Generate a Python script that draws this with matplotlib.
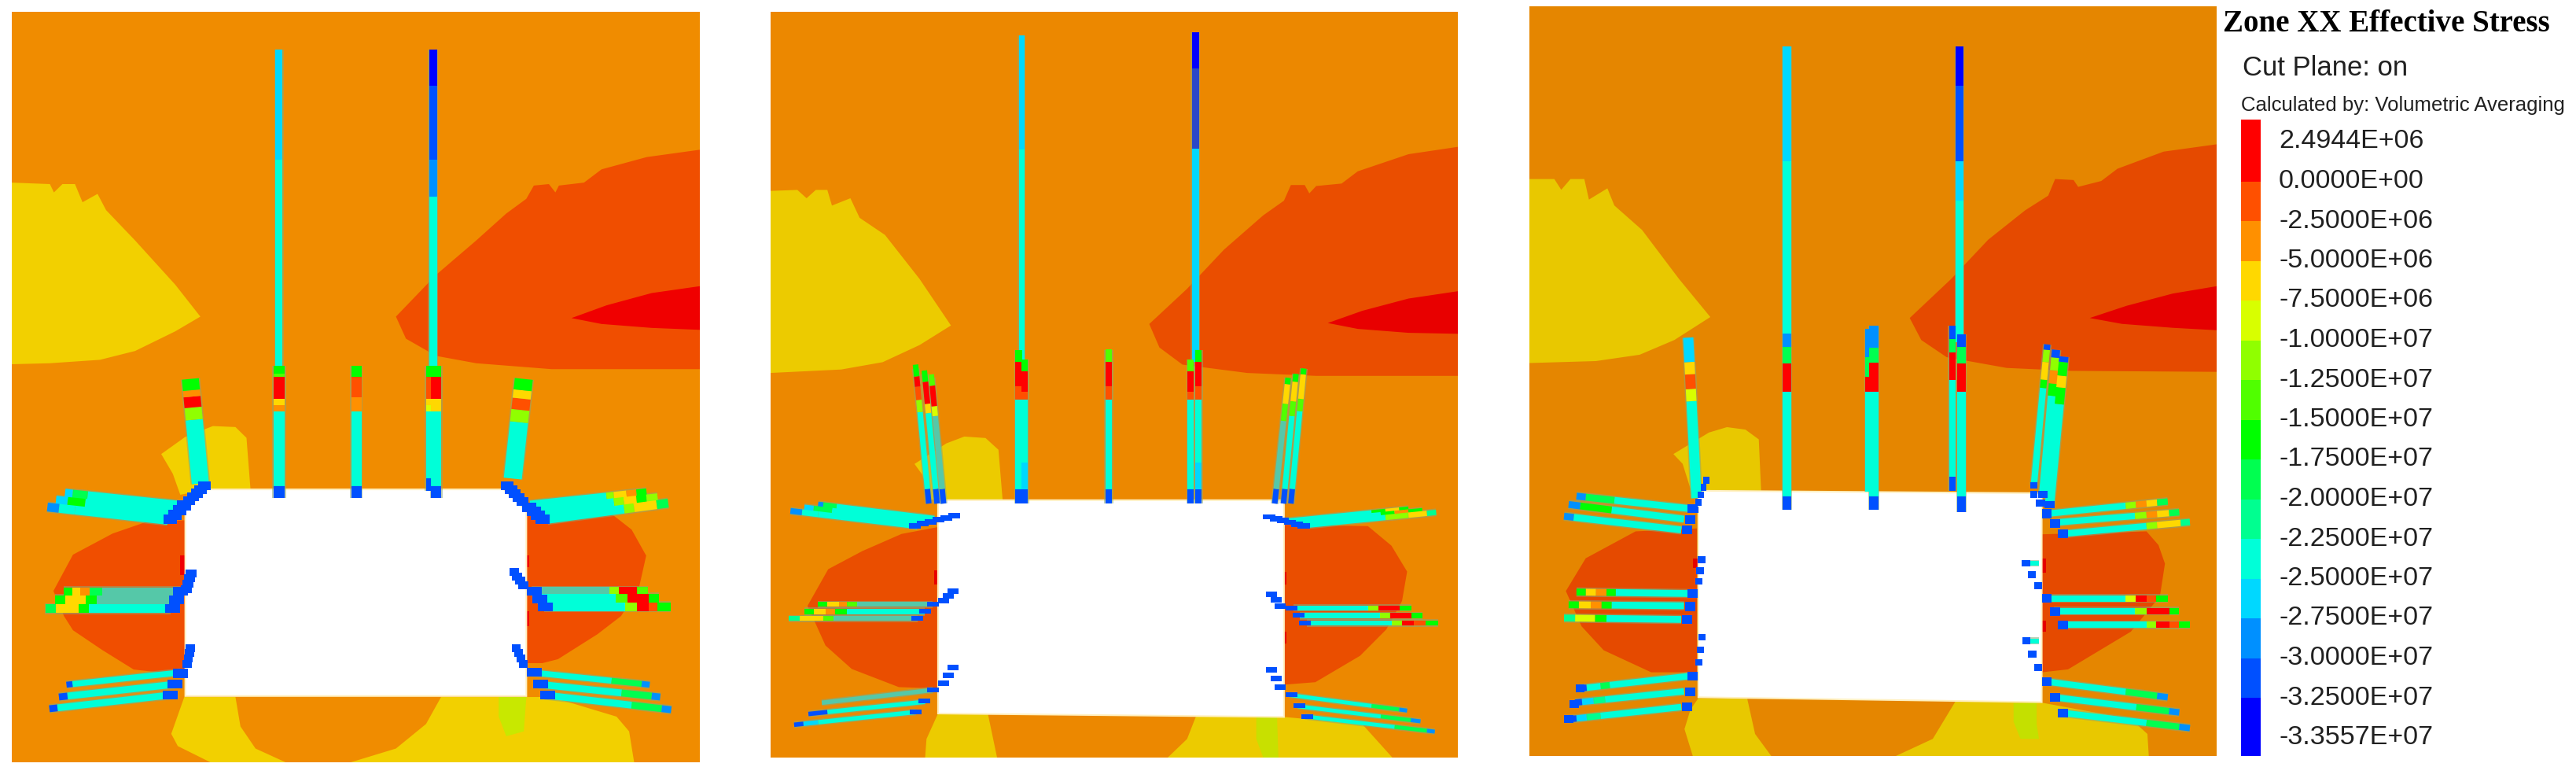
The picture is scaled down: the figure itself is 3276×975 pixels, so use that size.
import numpy as np
import matplotlib
matplotlib.use('Agg')
import matplotlib.pyplot as plt
from matplotlib.patches import Polygon, Rectangle

W, H = 3276, 975

# legend
title = 'Zone XX Effective Stress'
sub1 = 'Cut Plane: on'
sub2 = 'Calculated by: Volumetric Averaging'
legend_labels = ['2.4944E+06', '0.0000E+00', '-2.5000E+06', '-5.0000E+06', '-7.5000E+06',
                 '-1.0000E+07', '-1.2500E+07', '-1.5000E+07', '-1.7500E+07', '-2.0000E+07',
                 '-2.2500E+07', '-2.5000E+07', '-2.7500E+07', '-3.0000E+07', '-3.2500E+07',
                 '-3.3557E+07']
# colour of each stress band, top to bottom, then two washed out tones seen on bolts
levels = ['#ff0000', '#ff5000', '#ff9000', '#ffd800', '#d8ff00', '#90ff00', '#50ff00', '#00ff00',
          '#00ff50', '#00ff90', '#00ffd8', '#00d8ff', '#0090ff', '#0050ff', '#0000ff',
          '#55c8a8', '#2a48c8']
DIM, SLATE = 15, 16

# panel 1: outlines in image zoom units
p1_yellow = [(24,372),(100,375),(108,392),(125,375),(150,375),(165,412),(195,395),(212,428),(270,490),(350,580),(400,645),(350,675),(270,715),(200,733),(100,740),(24,742)]
p1_zone = [(1396,305),(1290,320),(1200,345),(1165,372),(1115,378),(1108,392),(1095,375),(1065,378),(1050,405),(1010,435),(950,490),(870,560),(790,645),(810,690),(870,725),(950,740),(1100,752),(1396,752)]
p1_red = [(1396,583),(1300,597),(1210,622),(1140,648),(1200,660),(1300,668),(1396,672)]
p1_yellow_up = [(322,925),(370,890),(425,868),(470,870),(492,892),(500,997),(415,997),(360,1008),(345,965)]
p1_left = [(370,1060),(293,1063),(225,1087),(146,1130),(107,1204),(128,1255),(146,1284),(204,1324),(267,1364),(319,1370),(370,1373)]
p1_right = [(1051,1036),(1220,1047),(1260,1079),(1289,1132),(1275,1196),(1239,1255),(1192,1292),(1113,1343),(1082,1351),(1051,1351)]
p1_floor = [(368,1420),(1100,1420),(1230,1460),(1255,1490),(1265,1553),(420,1553),(355,1520),(342,1495)]
p1_floor_hole = [(470,1420),(880,1420),(850,1475),(790,1525),(700,1553),(570,1553),(510,1525),(480,1480)]
p1_lime = [(995,1420),(1050,1420),(1045,1490),(1010,1500),(995,1460)]
p1_opening = [(370,1040),(415,997),(1005,997),(1050,1040),(1050,1418),(370,1418)]
p1_slivers = [[(360,1132),(370,1132),(370,1172),(360,1172)], [(1050,1132),(1056,1132),(1056,1155),(1050,1155)], [(1050,1245),(1056,1245),(1056,1275),(1050,1275)]]

# bolts: head x, head y, tip x, tip y, width, [(end along main axis, level), ...]
p1_bolts = [
    (557,750,557,101,14,[(325,10),(101,11)]),
    (557,1015,557,745,22,[(990,13),(838,10),(825,2),(812,3),(768,0),(762,6),(745,7)]),
    (711,1015,711,745,20,[(990,13),(838,10),(810,2),(768,1),(745,7)]),
    (864,750,864,101,16,[(400,10),(325,12),(175,13),(101,14)]),
    (858,1000,858,745,16,[(975,13),(838,10),(825,4),(812,3),(768,1),(745,7)]),
    (870,1015,870,745,20,[(990,13),(838,10),(812,3),(768,0),(745,7)]),
    (400,985,380,772,34,[(855,10),(830,5),(808,0),(795,2),(772,7)]),
    (1023,975,1045,772,36,[(860,10),(835,5),(812,1),(795,3),(772,7)]),
    (355,1030,130,1006,20,[(175,10),(145,8),(130,11)]),
    (345,1045,112,1020,20,[(170,10),(135,7),(112,11)]),
    (335,1060,95,1033,18,[(150,10),(118,10),(95,12)]),
    (360,1205,128,1205,16,[(205,DIM),(180,8),(160,2),(145,3),(128,7)]),
    (350,1222,110,1222,18,[(193,DIM),(172,7),(130,3),(110,7)]),
    (340,1240,90,1240,18,[(178,10),(157,7),(112,3),(91,8)]),
    (360,1370,133,1395,12,[(145,10),(133,13)]),
    (350,1394,118,1420,14,[(135,10),(118,13)]),
    (340,1416,99,1444,14,[(115,10),(99,13)]),
    (1058,1030,1290,1005,20,[(1210,10),(1225,5),(1250,3),(1270,2),(1290,7)]),
    (1075,1042,1312,1015,20,[(1225,10),(1245,5),(1270,3),(1290,7),(1312,5)]),
    (1092,1058,1333,1025,18,[(1245,10),(1265,5),(1310,3),(1333,8)]),
    (1061,1204,1293,1204,16,[(1215,DIM),(1235,5),(1270,0),(1293,6)]),
    (1071,1219,1314,1219,18,[(1228,10),(1252,6),(1294,0),(1314,7)]),
    (1085,1236,1338,1236,18,[(1247,10),(1270,5),(1294,0),(1312,1),(1338,7)]),
    (1061,1370,1296,1395,12,[(1220,10),(1280,8),(1296,12)]),
    (1074,1394,1317,1420,14,[(1240,10),(1300,8),(1317,12)]),
    (1087,1416,1339,1446,14,[(1260,10),(1320,8),(1339,12)]),
]
# blue head blocks: first x, first y, last x, last y, count, block w, block h
p1_heads = [
    (408,990,378,1020,5,24,18),(368,1030,340,1058,4,28,20),(382,1168,372,1200,4,22,16),
    (360,1205,345,1240,3,30,18),(380,1320,374,1352,4,18,16),(360,1372,340,1416,3,30,18),
    (1012,990,1042,1022,5,24,18),(1056,1034,1082,1058,4,28,20),(1026,1165,1044,1192,4,20,16),
    (1066,1204,1088,1236,3,30,18),(1030,1320,1044,1352,4,18,16),(1066,1370,1092,1416,3,30,18),
]

# panel 2
p2_yellow = [(17,390),(75,388),(95,405),(115,388),(140,388),(150,420),(190,405),(210,445),(265,480),(340,570),(408,665),(340,705),(260,740),(170,755),(17,762)]
p2_zone = [(1507,300),(1400,315),(1290,350),(1255,375),(1200,380),(1185,395),(1175,378),(1145,378),(1130,410),(1085,440),(1000,510),(920,590),(838,662),(860,710),(910,745),(1050,762),(1200,768),(1507,768)]
p2_red = [(1507,595),(1400,610),(1300,635),(1225,660),(1290,672),(1400,680),(1507,682)]
p2_yellow_up = [(329,948),(398,906),(437,892),(483,895),(511,919),(520,1021),(392,1021),(365,1021),(346,970)]
p2_left = [(380,1077),(301,1091),(216,1126),(142,1163),(97,1238),(114,1273),(136,1319),(193,1367),(295,1404),(380,1407)]
p2_right = [(1130,1072),(1312,1075),(1363,1115),(1397,1168),(1386,1228),(1352,1286),(1295,1340),(1198,1394),(1130,1399)]
p2_floor = [(380,1458),(488,1458),(508,1548),(352,1548),(355,1510)]
p2_floor2 = [(940,1462),(1130,1465),(1300,1480),(1365,1548),(878,1548),(920,1510)]
p2_lime = [(1070,1465),(1115,1465),(1118,1548),(1085,1548),(1070,1510)]
p2_opening = [(380,1022),(1130,1022),(1130,1465),(380,1458)]
p2_slivers = [[(372,1165),(380,1165),(380,1195),(372,1195)], [(1130,1168),(1135,1168),(1135,1195),(1130,1195)], [(1130,1290),(1135,1290),(1135,1315),(1130,1315)]]

p2_bolts = [
    (561,740,561,72,12,[(305,10),(72,11)]),
    (555,1028,555,716,14,[(1000,13),(817,10),(790,1),(740,0),(716,7)]),
    (568,1028,568,735,14,[(1000,13),(945,11),(817,10),(800,1),(758,0),(735,7)]),
    (750,1028,750,716,14,[(1000,13),(817,10),(790,1),(740,0),(714,6)]),
    (938,740,938,65,16,[(303,11),(140,SLATE),(65,14)]),
    (928,1028,928,735,14,[(1000,13),(817,10),(800,1),(758,0),(735,6)]),
    (945,1028,945,716,14,[(1000,13),(945,11),(817,10),(790,1),(740,0),(716,7)]),
    (360,1029,332,753,12,[(999,13),(842,10),(817,5),(790,1),(769,0),(745,7)]),
    (378,1029,351,764,12,[(999,13),(844,10),(825,3),(780,0),(757,7)]),
    (392,1029,366,772,12,[(999,13),(850,DIM),(830,4),(788,0),(765,6)]),
    (1110,1029,1139,772,12,[(999,13),(860,DIM),(825,6),(785,3),(772,7)]),
    (1129,1029,1156,764,12,[(999,13),(850,10),(820,6),(780,3),(764,7)]),
    (1145,1029,1173,753,12,[(999,13),(840,10),(815,6),(765,3),(753,7)]),
    (372,1060,120,1031,12,[(160,10),(131,8),(120,12)]),
    (355,1067,90,1037,12,[(150,10),(110,8),(90,11)]),
    (335,1075,60,1044,12,[(120,10),(85,10),(60,12)]),
    (369,1235,119,1235,10,[(204,DIM),(182,6),(165,2),(139,3),(119,7)]),
    (351,1250,91,1250,12,[(182,10),(156,7),(136,2),(111,3),(91,7)]),
    (335,1264,57,1264,10,[(153,DIM),(131,6),(80,3),(57,9)]),
    (369,1410,128,1436,9,[(128,DIM)]),
    (352,1434,99,1459,9,[(140,10),(99,13)]),
    (332,1455,68,1481,9,[(120,10),(88,11),(68,13)]),
    (1130,1065,1400,1040,10,[(1320,10),(1350,7),(1380,3),(1400,7)]),
    (1160,1068,1430,1043,10,[(1340,10),(1370,7),(1400,2),(1430,7)]),
    (1183,1073,1460,1047,11,[(1350,10),(1400,5),(1440,3),(1460,9)]),
    (1150,1242,1406,1242,10,[(1312,10),(1335,5),(1380,0),(1406,7)]),
    (1165,1258,1431,1258,11,[(1338,10),(1360,5),(1406,0),(1431,7)]),
    (1180,1273,1465,1273,11,[(1363,10),(1386,5),(1411,0),(1437,1),(1465,7)]),
    (1141,1420,1397,1452,8,[(1320,10),(1380,8),(1397,12)]),
    (1159,1443,1426,1474,8,[(1340,10),(1405,8),(1426,12)]),
    (1176,1464,1457,1495,8,[(1370,10),(1440,8),(1457,12)]),
]
p2_heads = [
    (415,1054,330,1074,6,26,11),(412,1208,392,1227,3,24,11),(369,1235,335,1264,3,24,10),
    (412,1364,392,1396,3,24,11),(369,1410,332,1455,3,26,10),(1098,1056,1173,1075,6,26,11),
    (1103,1214,1122,1238,3,24,11),(1147,1242,1176,1273,3,26,10),(1103,1369,1122,1404,3,24,11),
    (1147,1420,1180,1464,3,26,10),
]

# panel 3
p3_yellow = [(26,366),(80,366),(95,388),(115,366),(145,366),(155,408),(195,385),(210,420),(270,470),(350,570),(418,648),(340,695),(265,725),(170,738),(26,742)]
p3_zone = [(1515,295),(1400,310),(1300,345),(1265,370),(1215,382),(1205,368),(1165,366),(1150,400),(1100,430),(1020,490),(940,570),(850,650),(875,695),(930,730),(1060,752),(1200,758),(1515,760)]
p3_red = [(1515,585),(1420,600),(1320,625),(1240,650),(1310,662),(1420,670),(1515,675)]
p3_yellow_up = [(338,928),(415,884),(454,873),(494,878),(523,898),(528,1003),(409,1003),(380,1014),(358,948)]
p3_left = [(389,1080),(256,1086),(148,1141),(105,1208),(139,1280),(187,1329),(290,1374),(389,1374)]
p3_right = [(1136,1092),(1363,1086),(1389,1114),(1403,1152),(1392,1219),(1329,1291),(1193,1368),(1136,1374)]
p3_floor = [(392,1427),(498,1428),(515,1500),(550,1545),(380,1545),(362,1490),(375,1450)]
p3_floor2 = [(950,1432),(1136,1436),(1330,1470),(1365,1500),(1368,1545),(820,1545),(900,1510)]
p3_lime = [(1075,1437),(1125,1436),(1125,1480),(1130,1510),(1090,1510),(1075,1475)]
p3_opening = [(392,1003),(1136,1008),(1136,1435),(392,1425)]
p3_slivers = [[(380,1141),(392,1141),(392,1160),(380,1160)], [(1136,1141),(1145,1141),(1145,1170),(1136,1170)], [(1136,1269),(1145,1269),(1145,1291),(1136,1291)]]

p3_bolts = [
    (584,1042,584,95,18,[(1014,13),(801,10),(743,0),(709,8),(682,12),(330,10),(95,11)]),
    (760,1005,760,672,12,[(1005,13),(800,10),(770,0),(730,8),(672,12)]),
    (772,1042,772,665,20,[(1015,13),(800,10),(742,0),(710,8),(665,12)]),
    (958,700,958,95,16,[(410,10),(330,11),(175,13),(95,14)]),
    (942,1003,942,665,14,[(975,13),(776,10),(720,0),(693,8),(665,13)]),
    (962,1046,962,683,18,[(1014,13),(801,10),(743,0),(709,8),(683,13)]),
    (388,1018,370,690,22,[(820,10),(795,4),(765,1),(740,3),(690,11)]),
    (369,1039,128,1014,14,[(210,10),(148,8),(128,12)]),
    (361,1061,111,1031,14,[(204,10),(136,7),(111,12)]),
    (355,1083,101,1055,14,[(122,10),(101,12)]),
    (369,1213,128,1210,14,[(213,10),(193,7),(170,2),(148,3),(128,7)]),
    (361,1238,111,1236,14,[(204,10),(182,7),(159,2),(133,3),(111,7)]),
    (355,1266,101,1263,14,[(193,10),(168,7),(125,4),(101,9)]),
    (369,1382,136,1407,13,[(200,10),(180,8),(150,10),(136,13)]),
    (361,1413,125,1436,13,[(190,10),(165,9),(140,11),(125,13)]),
    (355,1445,111,1470,13,[(180,10),(150,9),(128,11),(111,13)]),
    (1119,992,1148,704,14,[(992,13),(793,10),(776,7),(740,3),(715,5),(704,13)]),
    (1139,1011,1167,715,18,[(1011,13),(809,10),(784,7),(757,2),(731,5),(715,13)]),
    (1153,1031,1184,729,20,[(1031,13),(826,10),(792,7),(768,3),(740,7),(729,13)]),
    (1147,1050,1409,1025,13,[(1318,10),(1340,5),(1363,2),(1386,3),(1409,8)]),
    (1165,1068,1434,1047,13,[(1338,10),(1363,5),(1386,2),(1412,3),(1434,8)]),
    (1182,1091,1457,1067,13,[(1363,10),(1386,5),(1437,3),(1457,9)]),
    (1147,1223,1409,1223,13,[(1318,10),(1340,4),(1363,0),(1383,1),(1409,7)]),
    (1163,1249,1434,1249,13,[(1338,10),(1363,5),(1412,0),(1434,7)]),
    (1182,1277,1457,1277,13,[(1363,10),(1383,5),(1412,0),(1434,1),(1457,7)]),
    (1147,1393,1409,1425,13,[(1318,10),(1386,8),(1409,12)]),
    (1163,1425,1434,1456,13,[(1341,10),(1412,8),(1434,12)]),
    (1182,1457,1457,1488,13,[(1363,10),(1434,8),(1457,12)]),
    (1130,1151,1102,1151,9,[(1102,10)]),
    (1130,1310,1103,1310,9,[(1103,10)]),
]
p3_heads = [
    (380,1040,368,1083,3,22,18),(399,1144,393,1188,3,16,14),(380,1213,368,1266,3,22,18),
    (400,1302,393,1353,3,14,13),(380,1382,368,1445,3,22,18),(136,1407,111,1470,3,20,16),
    (409,981,386,1042,5,13,14),(1119,992,1119,1011,2,14,14),(1139,1011,1133,1028,2,20,14),
    (1153,1031,1147,1050,2,22,14),(1147,1050,1182,1091,3,22,18),(1102,1151,1128,1197,3,18,14),
    (1147,1223,1182,1277,3,22,18),(1103,1310,1128,1364,3,18,14),(1147,1393,1182,1457,3,22,18),
]


def draw_bolt(ax, bolt):
    x0, y0, x1, y1, width, segs = bolt
    dx, dy = x1 - x0, y1 - y0
    length = np.hypot(dx, dy)
    nx, ny = -dy / length * width / 2, dx / length * width / 2
    along_y = abs(dy) > abs(dx)
    start = y0 if along_y else x0
    total = dy if along_y else dx
    # washed out rim, the source picture is blurred
    rim = 1 + 5 / width
    ax.add_patch(Polygon([(x0 + nx * rim, y0 + ny * rim), (x1 + nx * rim, y1 + ny * rim),
                          (x1 - nx * rim, y1 - ny * rim), (x0 - nx * rim, y0 - ny * rim)],
                         fc='#8aa878', ec='none', alpha=0.55, zorder=3))
    t0 = 0.0
    for end, level in segs:
        t1 = (end - start) / total
        ax.add_patch(Polygon([(x0 + dx * t0 + nx, y0 + dy * t0 + ny), (x0 + dx * t1 + nx, y0 + dy * t1 + ny),
                              (x0 + dx * t1 - nx, y0 + dy * t1 - ny), (x0 + dx * t0 - nx, y0 + dy * t0 - ny)],
                             fc=levels[level], ec='none', zorder=4))
        t0 = t1


def draw_heads(ax, heads):
    for x0, y0, x1, y1, n, bw, bh in heads:
        for x, y in zip(np.linspace(x0, x1, n), np.linspace(y0, y1, n)):
            ax.add_patch(Rectangle((x - bw / 2, y - bh / 2), bw, bh, fc=levels[13], ec='none', zorder=5))


def draw_panel(box, xlim, ylim, rock, shapes, opening, slivers, red, bolts, heads):
    left, top, right, bottom = box
    ax = fig.add_axes([left / W, 1 - bottom / H, (right - left) / W, (bottom - top) / H])
    ax.set_xlim(xlim)
    ax.set_ylim(ylim)
    ax.axis('off')
    ax.add_patch(Rectangle((xlim[0], ylim[1]), xlim[1] - xlim[0], ylim[0] - ylim[1], fc=rock, ec='none', zorder=0))
    for pts, colour in shapes:
        ax.add_patch(Polygon(pts, fc=colour, ec='none', zorder=1))
    for pts in slivers:
        ax.add_patch(Polygon(pts, fc=red, ec='none', zorder=1))
    ax.add_patch(Polygon(opening, fc='white', ec='#fff0c0', lw=1.5, zorder=2))
    for bolt in bolts:
        draw_bolt(ax, bolt)
    draw_heads(ax, heads)
    return ax


fig = plt.figure(figsize=(W / 100, H / 100), dpi=100, facecolor='white')

rock, low, zone, red, lime = '#f08c00', '#f2d000', '#f04e00', '#f00000', '#c8e800'
draw_panel((15, 15, 890, 969), (24, 1396), (1553, 24), rock,
           [(p1_yellow, low), (p1_zone, zone), (p1_red, red), (p1_yellow_up, low), (p1_left, zone), (p1_right, zone),
            (p1_floor, low), (p1_floor_hole, rock), (p1_lime, lime)],
           p1_opening, p1_slivers, red, p1_bolts, p1_heads)

rock, low, zone, red, lime = '#ec8800', '#eccb00', '#ea4e00', '#e80000', '#c8e000'
draw_panel((980, 15, 1854, 963), (17, 1507), (1548, 24), rock,
           [(p2_yellow, low), (p2_zone, zone), (p2_red, red), (p2_yellow_up, low), (p2_left, zone), (p2_right, zone),
            (p2_floor, low), (p2_floor2, low), (p2_lime, lime)],
           p2_opening, p2_slivers, red, p2_bolts, p2_heads)

rock, low, zone, red, lime = '#e58600', '#e8c800', '#e54a00', '#e50000', '#c4e000'
draw_panel((1945, 8, 2819, 961), (26, 1515), (1545, 13), rock,
           [(p3_yellow, low), (p3_zone, zone), (p3_red, red), (p3_yellow_up, low), (p3_left, zone), (p3_right, zone),
            (p3_floor, low), (p3_floor2, low), (p3_lime, lime)],
           p3_opening, p3_slivers, red, p3_bolts, p3_heads)

# colour key, in image pixels
key = fig.add_axes([0, 0, 1, 1], facecolor='none')
key.set_xlim(0, W)
key.set_ylim(H, 0)
key.axis('off')
label_y = 180 + 50.5 * np.arange(len(legend_labels))
edges = np.concatenate(([152], label_y[1:15], [961]))
key.bar(np.full(15, 2862.5), np.diff(edges), width=25, bottom=edges[:-1], color=levels[:15], linewidth=0)
key.text(2827, 31, title, family='Liberation Serif', weight='bold', fontsize=28, va='center', ha='left', color='black')
key.text(2852, 86, sub1, family='Liberation Sans', fontsize=25, va='center', ha='left', color='#202020')
key.text(2850, 134, sub2, family='Liberation Sans', fontsize=18.5, va='center', ha='left', color='#202020')
for y, lab in zip(label_y, legend_labels):
    key.text(2898, y, lab, family='Liberation Sans', fontsize=24.5, va='center', ha='left', color='#202020')

fig.savefig('out.png', dpi=100)
